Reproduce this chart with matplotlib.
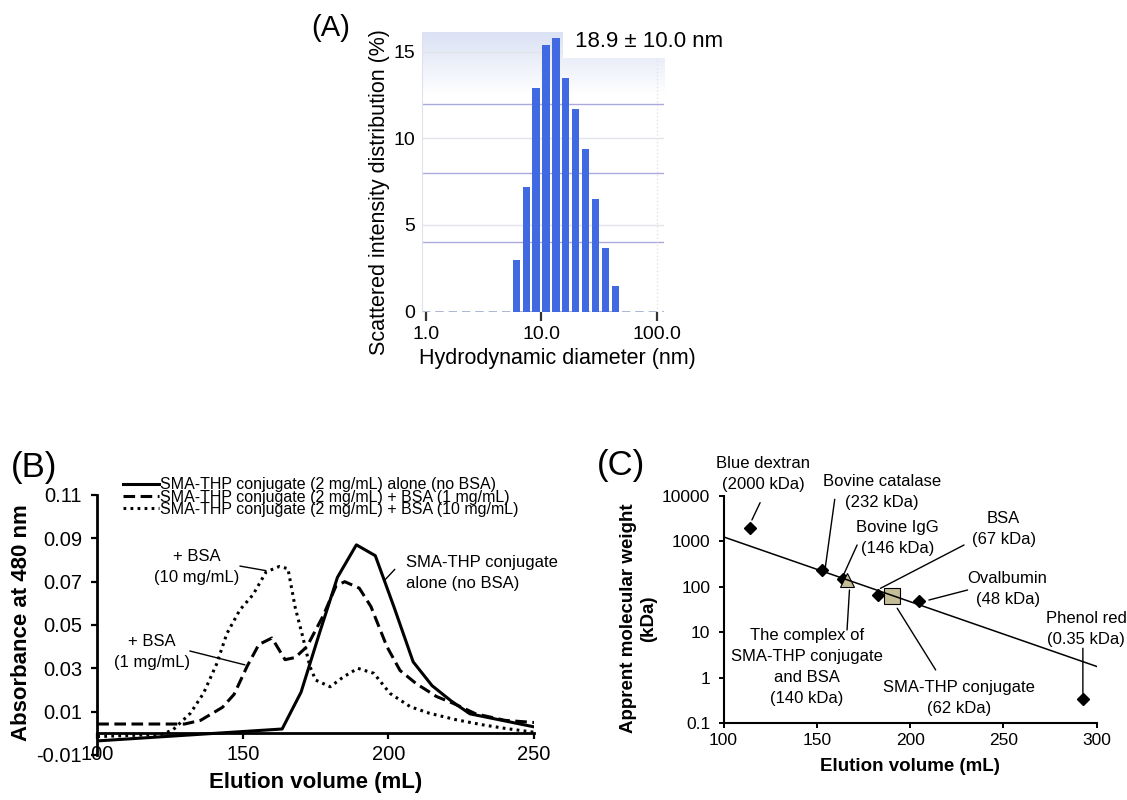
import matplotlib.pyplot as plt
import numpy as np
from matplotlib.patches import Rectangle
from matplotlib.ticker import NullLocator

plt.rcParams["font.family"] = ["Liberation Sans", "DejaVu Sans"]

# (A) DLS intensity distribution of the conjugate
dls_diameter_nm = [6.1, 7.4, 9.0, 11.0, 13.4, 16.3, 19.9, 24.2, 29.5, 35.9, 43.8]
dls_intensity_pct = [3.0, 7.2, 12.9, 15.4, 15.8, 13.5, 11.7, 9.4, 6.5, 3.7, 1.5]
dls_ticks = [1, 10, 100]
dls_tick_labels = ["1.0", "10.0", "100.0"]

# (B) elution profiles, absorbance at 480 nm
volume_alone = [100, 163.5, 170, 176.5, 182.5, 189, 195.5, 202, 208.5, 215, 221.5, 228, 250]
absorb_alone = [-0.0035, 0.002, 0.019, 0.047, 0.072, 0.087, 0.082, 0.058, 0.033,
                0.022, 0.015, 0.009, 0.003]

volume_bsa1 = [100, 130, 135.5, 143, 147, 151.5, 155.5, 160, 164.5, 168, 172, 177.5,
               182, 185, 190, 194, 199.5, 204, 209.5, 216.5, 222, 230, 240, 250]
absorb_bsa1 = [0.0043, 0.0043, 0.006, 0.012, 0.018, 0.031, 0.041, 0.044, 0.034, 0.035,
               0.040, 0.054, 0.068, 0.070, 0.067, 0.0585, 0.040, 0.029, 0.023, 0.017,
               0.014, 0.009, 0.006, 0.005]

volume_bsa10 = [100, 122, 126, 132, 136.5, 141, 144.5, 149, 153.5, 158, 162.5, 165.5,
                168, 170.5, 173, 175, 180, 184.5, 189.5, 195, 200.5, 207.5, 214, 223.5,
                232.5, 240, 250]
absorb_bsa10 = [-0.0015, -0.0005, 0.0016, 0.0093, 0.0185, 0.032, 0.046, 0.057, 0.064,
                0.0745, 0.077, 0.076, 0.058, 0.045, 0.031, 0.0246, 0.0215, 0.026, 0.030,
                0.0277, 0.0185, 0.0123, 0.0093, 0.0062, 0.0039, 0.0023, 0.0005]

legend_labels = [
    "SMA-THP conjugate (2 mg/mL) alone (no BSA)",
    "SMA-THP conjugate (2 mg/mL) + BSA (1 mg/mL)",
    "SMA-THP conjugate (2 mg/mL) + BSA (10 mg/mL)",
]
absorb_ticks = [-0.01, 0.01, 0.03, 0.05, 0.07, 0.09, 0.11]
volume_ticks_b = [100, 150, 200, 250]

# (C) calibration of the column
std_names = ["Blue dextran\n(2000 kDa)", "Bovine catalase\n(232 kDa)",
             "Bovine IgG\n(146 kDa)", "BSA\n(67 kDa)", "Ovalbumin\n(48 kDa)",
             "Phenol red\n(0.35 kDa)"]
std_volume = [114, 153, 164, 183, 205, 292.5]
std_mw = [2000, 232, 146, 67, 48, 0.35]
complex_volume = [166]
complex_mw = [140]
conjugate_volume = [190.5]
conjugate_mw = [62]
fit_volume = [100, 300]
fit_mw = [1260, 1.78]
mw_ticks = [0.1, 1, 10, 100, 1000, 10000]
volume_ticks_c = [100, 150, 200, 250, 300]


def plot_size_distribution(fig: plt.Figure):
    """
    Panel (A): scattered intensity distribution against hydrodynamic diameter.

    :param fig: The figure to draw in.
    """
    rect = [0.3742, 0.6104, 0.2150, 0.35]

    # light gradient behind the plotting area
    bg = fig.add_axes(rect, zorder=0)
    shade = np.ones((100, 1, 4))
    shade[:, 0, :3] = [0.86, 0.89, 0.96]
    shade[:, 0, 3] = np.clip((np.linspace(1, 0, 100) - 0.78) / 0.22, 0, 1)
    bg.imshow(shade, extent=[0, 1, 0, 1], aspect="auto", origin="upper")
    bg.set_xlim(0, 1)
    bg.set_ylim(0, 1)
    bg.axis("off")

    ax = fig.add_axes(rect, zorder=1)
    ax.set_facecolor("none")
    ax.set_xscale("log")

    d = np.array(dls_diameter_nm)
    half = 10 ** 0.0318
    ax.bar(d / half, dls_intensity_pct, width=d * half - d / half, align="edge",
           color="#4169E1", zorder=3)

    for v in (5, 10, 15):
        ax.axhline(v, color="#e4e4ec", lw=1, zorder=1)
    for v in (4, 8, 12):
        ax.axhline(v, color="#a9a9dc", lw=1, zorder=1)
    ax.axhline(0, color="#9ea8c8", lw=1.2, ls=(0, (5, 3)), zorder=2)
    ax.axvline(100, color="#e2e2e8", lw=1, ls=":", zorder=1)
    ax.add_patch(Rectangle((0.583, 0.906), 0.42, 0.1, transform=ax.transAxes,
                           facecolor="white", edgecolor="none", zorder=2,
                           clip_on=False))

    ax.set_xlim(0.918, 115.9)
    ax.set_ylim(0, 16.15)
    ax.set_xticks(dls_ticks, labels=dls_tick_labels)
    ax.xaxis.set_minor_locator(NullLocator())
    ax.set_yticks([0, 5, 10, 15])
    for side in ("top", "right", "bottom"):
        ax.spines[side].set_visible(False)
    ax.spines["left"].set_color("#dfe2ea")
    ax.tick_params(axis="x", direction="out", length=6.3, width=1.6,
                   color="#333333", pad=4, labelsize=14)
    ax.tick_params(axis="y", length=0, pad=5, labelsize=14)

    ax.set_xlabel("Hydrodynamic diameter (nm)", fontsize=15.5)
    ax.set_ylabel("Scattered intensity distribution (%)", fontsize=15.5)
    ax.xaxis.set_label_coords(0.560, -0.13)
    ax.yaxis.set_label_coords(-0.131, 0.426)

    ax.text(0.633, 0.964, "18.9 \u00b1 10.0 nm", transform=ax.transAxes,
            ha="left", va="center", fontsize=16, zorder=5)


def plot_elution_profiles(fig: plt.Figure):
    """
    Panel (B): absorbance of the eluate against elution volume.

    :param fig: The figure to draw in.
    """
    ax = fig.add_axes([0.0863, 0.05625, 0.3875, 0.325])
    ax.plot(volume_alone, absorb_alone, color="black", lw=2.2, label=legend_labels[0])
    ax.plot(volume_bsa1, absorb_bsa1, color="black", lw=2.2, dashes=(3.8, 1.8),
            label=legend_labels[1])
    ax.plot(volume_bsa10, absorb_bsa10, color="black", lw=2.2, ls=(0, (0.9, 1.4)),
            label=legend_labels[2])

    ax.set_xlim(100, 250)
    ax.set_ylim(-0.01, 0.11)
    ax.set_xticks(volume_ticks_b)
    ax.set_yticks(absorb_ticks, labels=[f"{t:.2f}" for t in absorb_ticks])
    ax.spines["top"].set_visible(False)
    ax.spines["right"].set_visible(False)
    ax.spines["left"].set_linewidth(2)
    ax.spines["bottom"].set_linewidth(2)
    ax.spines["bottom"].set_position(("data", 0))
    ax.tick_params(axis="both", direction="out", length=4, width=1.6, labelsize=14.5)
    ax.tick_params(axis="x", pad=4.5)
    ax.tick_params(axis="y", pad=7)

    ax.set_xlabel("Elution volume (mL)", fontsize=16, fontweight="bold")
    ax.set_ylabel("Absorbance at 480 nm", fontsize=16, fontweight="bold")
    ax.xaxis.set_label_coords(0.5, -0.065)
    ax.yaxis.set_label_coords(-0.150, 0.508)

    ax.legend(loc="upper left", bbox_to_anchor=(0.058, 1.068), frameon=False,
              fontsize=11.5, handlelength=2.3, handletextpad=0.05,
              labelspacing=-0.17, borderpad=0, borderaxespad=0)

    line = dict(arrowstyle="-", color="black", lw=1, shrinkA=0, shrinkB=0)
    ax.text(134.1, 0.0766, "+ BSA\n(10 mg/mL)", ha="center", va="center",
            fontsize=12, linespacing=1.5)
    ax.annotate("", xy=(157.9, 0.0751), xytext=(149.0, 0.0772), arrowprops=line)
    ax.text(118.7, 0.0375, "+ BSA\n(1 mg/mL)", ha="center", va="center",
            fontsize=12, linespacing=1.5)
    ax.annotate("", xy=(150.7, 0.0316), xytext=(131.8, 0.0380), arrowprops=line)
    ax.text(206.2, 0.0739, "SMA-THP conjugate\nalone (no BSA)", ha="left",
            va="center", fontsize=12, linespacing=1.5, clip_on=False)
    ax.annotate("", xy=(198.8, 0.0708), xytext=(202.2, 0.0757), arrowprops=line)


def plot_calibration(fig: plt.Figure):
    """
    Panel (C): apparent molecular weight against elution volume.

    :param fig: The figure to draw in.
    """
    ax = fig.add_axes([0.642, 0.0959, 0.3311, 0.2841])
    ax.set_yscale("log")
    ax.plot(std_volume, std_mw, "D", color="black", ms=6.5, zorder=3)
    ax.plot(complex_volume, complex_mw, "^", mfc="#C4BD97", mec="black", mew=0.8,
            ms=9.6, zorder=3)
    ax.plot(conjugate_volume, conjugate_mw, "s", mfc="#C4BD97", mec="black", mew=0.8,
            ms=11, zorder=3)
    ax.plot(fit_volume, fit_mw, color="black", lw=1.1, zorder=4)

    ax.set_xlim(100, 300)
    ax.set_ylim(0.1, 10000)
    ax.set_xticks(volume_ticks_c)
    ax.set_yticks(mw_ticks, labels=[f"{t:g}" for t in mw_ticks])
    ax.yaxis.set_minor_locator(NullLocator())
    ax.spines["top"].set_visible(False)
    ax.spines["right"].set_visible(False)
    ax.spines["left"].set_linewidth(1.5)
    ax.spines["bottom"].set_linewidth(1.5)
    ax.tick_params(axis="both", direction="out", length=3.6, width=1.4, labelsize=12.5)
    ax.tick_params(axis="x", pad=3.5)
    ax.tick_params(axis="y", pad=6)

    ax.set_xlabel("Elution volume (mL)", fontsize=13.5, fontweight="bold")
    ax.set_ylabel("Apprent molecular weight\n(kDa)", fontsize=13.5, fontweight="bold")
    ax.xaxis.set_label_coords(0.5, -0.153)
    ax.yaxis.set_label_coords(-0.179, 0.462)

    line = dict(arrowstyle="-", color="black", lw=1, shrinkA=0, shrinkB=0)
    # label position, line start, line end (in data coordinates)
    layout = [
        ((121.4, 30480), (119.6, 7130), (115.2, 2965)),
        ((185.0, 11940), (159.6, 8450), (154.6, 279)),
        ((193.1, 1175), (171.6, 836), (163.5, 155)),
        ((250.1, 1901), (228.9, 836), (184.1, 93)),
        ((252.3, 89), (230.8, 85.5), (210.1, 51.5)),
        ((294.4, 11.7), (292.6, 4.47), (292.6, 0.457)),
    ]
    for name, (text_xy, start, end) in zip(std_names, layout):
        ax.text(*text_xy, name, ha="center", va="center", fontsize=12,
                linespacing=1.5, clip_on=False)
        ax.annotate("", xy=end, xytext=start, arrowprops=line)

    ax.text(226.2, 0.36, "SMA-THP conjugate\n(62 kDa)", ha="center", va="center",
            fontsize=12, linespacing=1.5)
    ax.annotate("", xy=(193.1, 33.9), xytext=(213.7, 1.49), arrowprops=line)
    ax.text(144.7, 1.73, "The complex of\nSMA-THP conjugate\nand BSA\n(140 kDa)",
            ha="center", va="center", fontsize=12, linespacing=1.5)
    ax.annotate("", xy=(167.5, 85.5), xytext=(166.2, 11.3), arrowprops=line)


fig = plt.figure(figsize=(11.27, 8), dpi=100)
plot_size_distribution(fig)
plot_elution_profiles(fig)
plot_calibration(fig)
fig.text(0.2764, 0.9656, "(A)", fontsize=21, ha="left", va="center")
fig.text(0.0095, 0.415, "(B)", fontsize=25, ha="left", va="center")
fig.text(0.530, 0.4175, "(C)", fontsize=25, ha="left", va="center")
fig.savefig("out.png", dpi=100)
